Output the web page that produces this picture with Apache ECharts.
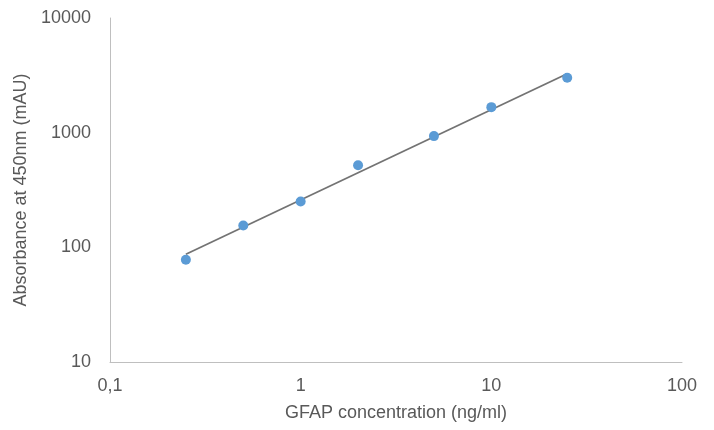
<!DOCTYPE html>
<html>
<head>
<meta charset="utf-8">
<script src="https://cdn.jsdelivr.net/npm/echarts@6/dist/echarts.min.js"></script>
<style>
  html, body { margin: 0; padding: 0; background: #fff; }
  #chart { width: 714px; height: 430px; }
</style>
</head>
<body>
<div id="chart"></div>
<script>
// concentrations (ng/ml) and measured absorbance (mAU)
var concentration = [0.25, 0.5, 1, 2, 5, 10, 25];
var absorbance = [78, 155, 251, 519, 933, 1670, 3012];

// power trendline, end points
var trendX = [0.25, 25];
var trendY = [87, 3264];

var textColor = '#595959';
var font = 'Liberation Sans, Arial, sans-serif';

var chart = echarts.init(document.getElementById('chart'));

chart.setOption({
  animation: false,
  grid: { left: 110, right: 32, top: 18, bottom: 68 },
  xAxis: {
    type: 'log',
    logBase: 10,
    min: 0.1,
    max: 100,
    name: 'GFAP concentration (ng/ml)',
    nameLocation: 'middle',
    nameGap: 42,
    nameTextStyle: { color: textColor, fontSize: 18, fontFamily: font },
    axisLine: { lineStyle: { color: '#bfbfbf', width: 1 } },
    axisTick: { show: false },
    splitLine: { show: false },
    axisLabel: {
      color: textColor, fontSize: 18, fontFamily: font, margin: 15,
      formatter: function (v) { return String(v).replace('.', ','); }
    }
  },
  yAxis: {
    type: 'log',
    logBase: 10,
    min: 10,
    max: 10000,
    name: 'Absorbance at 450nm (mAU)',
    nameLocation: 'middle',
    nameGap: 78,
    nameTextStyle: { color: textColor, fontSize: 18, fontFamily: font },
    axisLine: { show: true, lineStyle: { color: '#bfbfbf', width: 1 } },
    axisTick: { show: false },
    splitLine: { show: false },
    axisLabel: {
      color: textColor, fontSize: 18, fontFamily: font, margin: 19,
      formatter: function (v) { return String(v); }
    }
  },
  series: [
    {
      name: 'Trend',
      type: 'line',
      data: trendX.map(function (x, i) { return [x, trendY[i]]; }),
      symbol: 'none',
      lineStyle: { color: '#737373', width: 1.8 },
      z: 2
    },
    {
      name: 'GFAP',
      type: 'scatter',
      data: concentration.map(function (x, i) { return [x, absorbance[i]]; }),
      symbolSize: 10,
      itemStyle: { color: '#5b9bd5', opacity: 1 },
      z: 3
    }
  ]
});
</script>
</body>
</html>
